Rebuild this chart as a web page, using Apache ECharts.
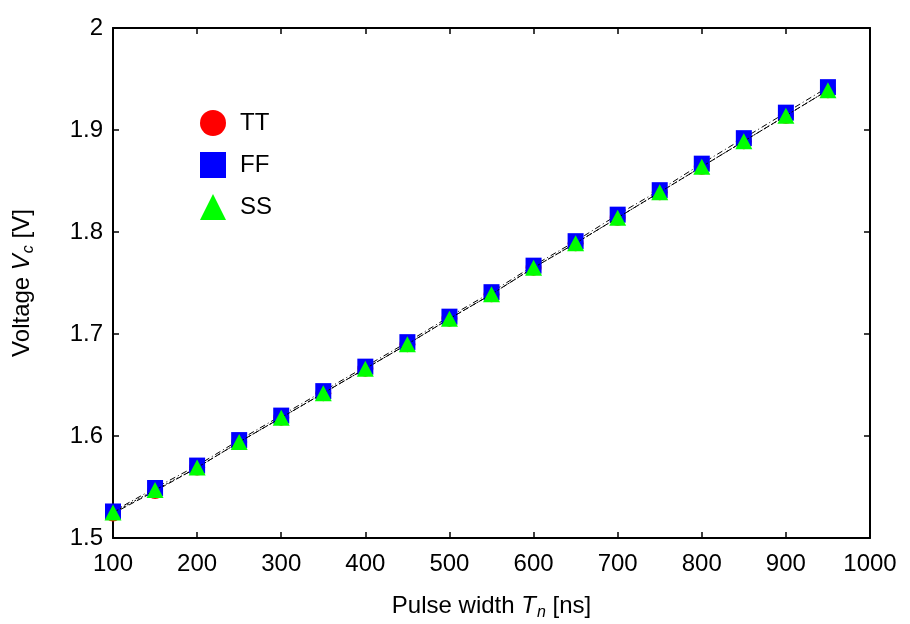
<!DOCTYPE html>
<html><head><meta charset="utf-8">
<script src="https://cdn.jsdelivr.net/npm/echarts@6/dist/echarts.min.js"></script>
<style>html,body{margin:0;padding:0;background:#fff}#c{width:910px;height:624px}</style>
</head><body><div id="c"></div>
<script>
const widths = [100,150,200,250,300,350,400,450,500,550,600,650,700,750,800,850,900,950];
const tt = [1.524,1.546,1.569,1.594,1.618,1.642,1.666,1.690,1.715,1.739,1.765,1.789,1.814,1.839,1.864,1.889,1.914,1.939];
const ff = [1.526,1.549,1.571,1.596,1.620,1.644,1.668,1.692,1.717,1.741,1.767,1.791,1.817,1.841,1.867,1.892,1.917,1.942];
const ss = [1.525,1.547,1.569,1.594,1.618,1.642,1.666,1.690,1.715,1.739,1.765,1.789,1.814,1.839,1.864,1.889,1.914,1.939];
const seriesNames = ['TT','FF','SS'];

const font = 'Liberation Sans, Arial, sans-serif';
const chart = echarts.init(document.getElementById('c'));
function pairs(v){ return widths.map((x,i)=>[x,v[i]]); }
const axBase = {
  axisLine:{show:true, onZero:false, lineStyle:{color:'#000', width:2}},
  axisTick:{show:true, inside:true, length:6, lineStyle:{color:'#000', width:1.5}},
  splitLine:{show:false}
};
const rich = {
  a:{fontSize:24,fontFamily:font,color:'#000'},
  i:{fontSize:24,fontFamily:font,fontStyle:'italic',color:'#000'},
  s:{fontSize:16,fontFamily:font,fontStyle:'italic',color:'#000',verticalAlign:'bottom',padding:[13,0,0,1]}
};
chart.setOption({
  animation:false,
  grid:{left:113, right:40, top:28, bottom:86, outerBoundsMode:'none', containLabel:false},
  legend:{
    orient:'vertical', left:195, top:105, itemWidth:26, itemHeight:26, itemGap:16,
    textStyle:{fontSize:24, fontFamily:font, color:'#000', padding:[0,0,0,9]},
    data:[{name:'TT', icon:'circle'},{name:'FF', icon:'rect'},{name:'SS', icon:'triangle'}]
  },
  xAxis:[
    Object.assign({type:'value', min:100, max:1000, interval:100, position:'bottom',
      name:'{a|Pulse width }{i|T}{s|n}{a| [ns]}', nameLocation:'middle', nameGap:54,
      nameTextStyle:{rich:rich},
      axisLabel:{fontSize:24, fontFamily:font, color:'#000', margin:14, formatter:v=>String(v)}}, axBase),
    Object.assign({type:'value', min:100, max:1000, interval:100, position:'top', axisLabel:{show:false}}, axBase)
  ],
  yAxis:[
    Object.assign({type:'value', min:1.5, max:2, interval:0.1, position:'left',
      name:'{a|Voltage }{i|V}{s|c}{a| [V]}', nameLocation:'middle', nameGap:76, nameRotate:90,
      nameTextStyle:{rich:rich},
      axisLabel:{fontSize:24, fontFamily:font, color:'#000', margin:10, formatter:v=>(Math.round(v*10)/10).toString()}}, axBase),
    Object.assign({type:'value', min:1.5, max:2, interval:0.1, position:'right', axisLabel:{show:false}}, axBase)
  ],
  series:[
    {name:seriesNames[0], type:'line', data:pairs(tt), symbol:'circle', symbolSize:16,
     itemStyle:{color:'#ff0000'}, lineStyle:{color:'#000', width:1, type:[6,3]}, z:2},
    {name:seriesNames[1], type:'line', data:pairs(ff), symbol:'rect', symbolSize:16,
     itemStyle:{color:'#0000ff'}, lineStyle:{color:'#000', width:1, type:[6,3,1,3]}, z:3},
    {name:seriesNames[2], type:'line', data:pairs(ss), symbol:'triangle', symbolSize:[17,16],
     itemStyle:{color:'#00ff00'}, lineStyle:{color:'#000', width:1, type:[2,2]}, z:4}
  ]
});
</script></body></html>
